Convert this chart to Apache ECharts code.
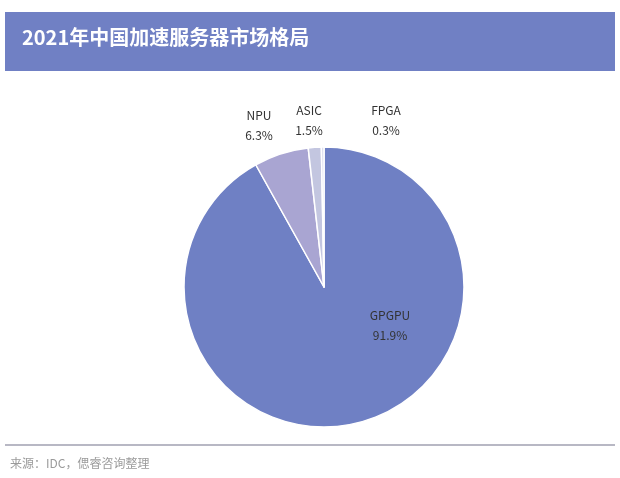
<!DOCTYPE html>
<html><head><meta charset="utf-8">
<script src="https://cdn.jsdelivr.net/npm/echarts@6/dist/echarts.min.js"></script>
<style>html,body{margin:0;padding:0;background:#fff}#c{width:620px;height:478px}</style>
</head><body><div id="c"></div>
<script>
var categories = ['GPGPU', 'NPU', 'ASIC', 'FPGA'];
var shares = [91.9, 6.3, 1.5, 0.3];
var colors = ['#6f80c4', '#a9a5d2', '#c3c6e0', '#d9dbec'];
// label anchor points (label text only)
var labelPos = [[390, 325], [259, 125], [309, 120], [386, 120]];

var chart = echarts.init(document.getElementById('c'));
var font = '"Noto Sans CJK SC", "Microsoft YaHei", sans-serif';
chart.setOption({
    animation: false,
    graphic: [
        {type: 'rect', shape: {x: 5, y: 12, width: 610, height: 59}, style: {fill: '#7080c4'}},
        {type: 'text', left: 22, top: 27, style: {text: '2021年中国加速服务器市场格局', fill: '#fff', font: 'bold 20px ' + font}},
        {type: 'rect', shape: {x: 5, y: 444, width: 610, height: 2}, style: {fill: '#b8b8c4'}},
        {type: 'text', left: 10, top: 457, style: {text: '来源：IDC，偲睿咨询整理', fill: '#9a9a9a', font: '12px ' + font}}
    ],
    series: [{
        type: 'pie',
        center: [324, 287],
        radius: 140,
        startAngle: 90,
        clockwise: true,
        itemStyle: {borderColor: '#fff', borderWidth: 1.5},
        label: {
            show: true,
            formatter: function (p) { return p.name + '\n' + p.value + '%'; },
            color: '#333',
            fontSize: 12,
            lineHeight: 20,
            fontFamily: font,
            align: 'center'
        },
        labelLine: {show: false},
        labelLayout: function (p) {
            var xy = labelPos[p.dataIndex];
            return {x: xy[0], y: xy[1], align: 'center', verticalAlign: 'middle'};
        },
        data: categories.map(function (n, i) {
            return {name: n, value: shares[i], itemStyle: {color: colors[i]}};
        })
    }]
});
</script></body></html>
